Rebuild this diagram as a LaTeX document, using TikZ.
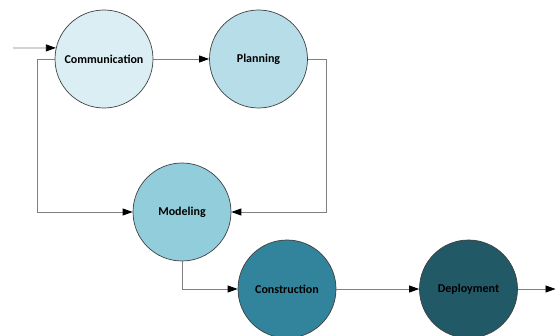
\documentclass[tikz,border=0pt]{standalone}
\usepackage{fontspec}
\setmainfont{Carlito}
\usetikzlibrary{arrows.meta}
\definecolor{cA}{HTML}{DAEEF3}
\definecolor{cB}{HTML}{B7DDE8}
\definecolor{cC}{HTML}{92CDDC}
\definecolor{cD}{HTML}{31849B}
\definecolor{cE}{HTML}{215967}
\tikzset{
  phase/.style={circle, draw=black!75, line width=0.7pt, minimum size=98pt, inner sep=0pt, font=\bfseries\fontsize{12}{14}\selectfont},
  conn/.style={draw=black!50, line width=0.8pt, -{Triangle[length=10pt,width=7pt,color=black]}},
  plain/.style={draw=black!50, line width=0.8pt}
}
\begin{document}
\begin{tikzpicture}[x=1pt,y=-1pt]
\useasboundingbox (0,0) rectangle (556,336);
\node[phase, fill=cA] (comm) at (104,59) {Communication};
\node[phase, fill=cB] (plan) at (258.5,59) {Planning};
\node[phase, fill=cC] (mod) at (182,212) {Modeling};
\node[phase, fill=cD] (cons) at (287,289) {Construction};
\node[phase, fill=cE] (dep) at (468.5,289) {Deployment};
\coordinate (start) at (13,48);
\coordinate (fbL) at (37.5,59);
\coordinate (fbR) at (326,59);
\coordinate (out) at (555.5,289);
\draw[conn] (start) -- (comm.167);
\draw[conn] (comm) -- (plan);
\draw[conn] (comm.west) -- (fbL) |- (mod.west);
\draw[conn] (plan.east) -- (fbR) |- (mod.east);
\draw[conn] (mod.south) |- (cons.west);
\draw[conn] (cons) -- (dep);
\draw[conn] (dep.east) -- (out);
\end{tikzpicture}
\end{document}
